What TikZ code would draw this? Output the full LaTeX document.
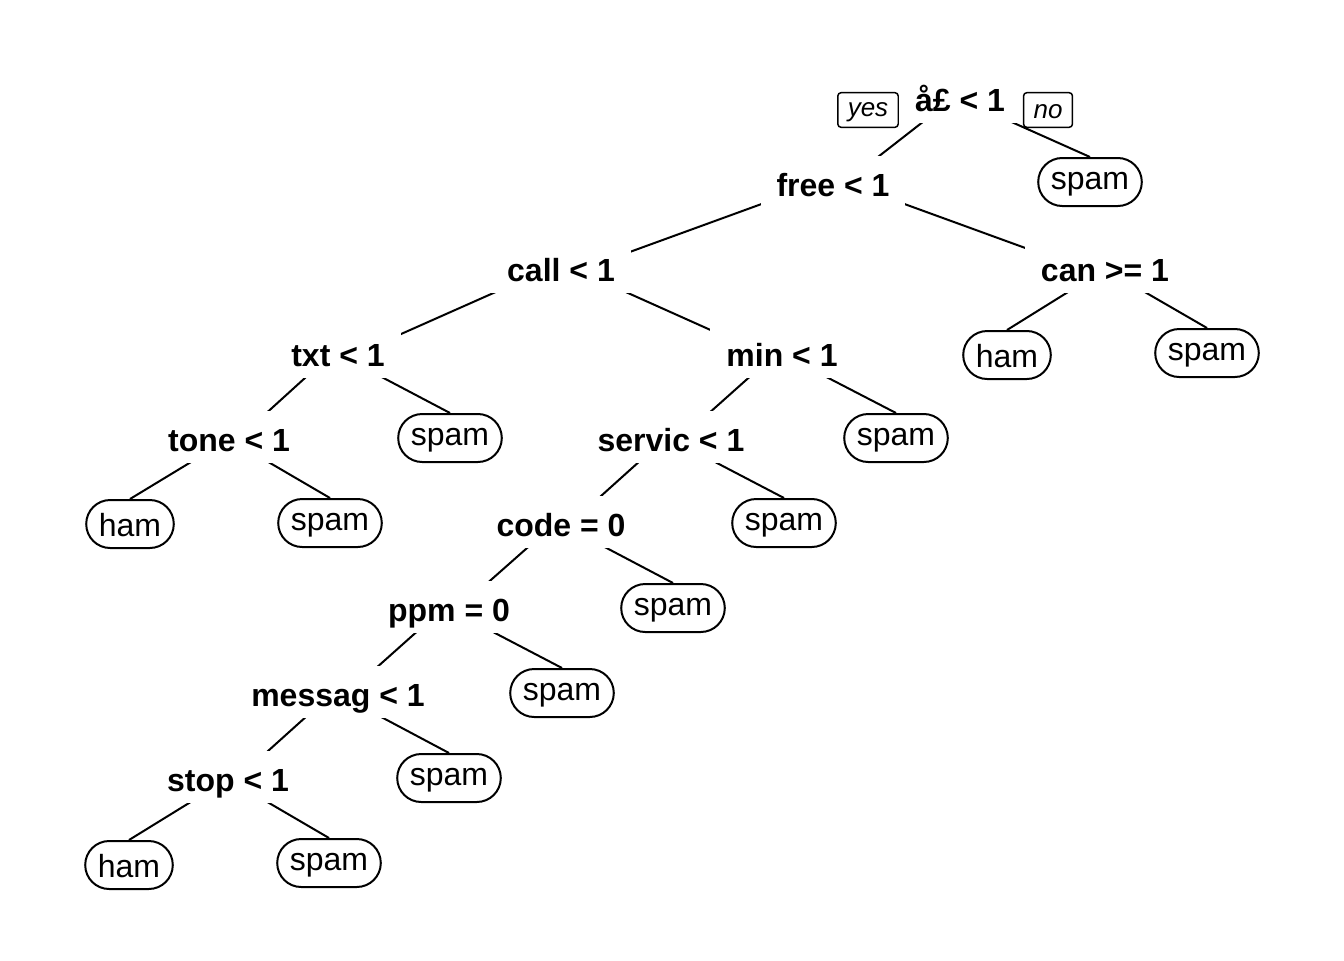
\documentclass[tikz,border=0pt]{standalone}
\usepackage{fontspec}
\setmainfont{Liberation Sans}
\usetikzlibrary{backgrounds}
% branch from a split to a split, and from a split to a leaf
\newcommand\splitbranch[2]{\draw[branch] ([yshift=13.5pt]#1.base) -- ([yshift=3pt]#2.base);}
\newcommand\leafbranch[2]{\draw[branch] ([yshift=9pt]#1.base) -- (#2.north);}
% lower a label inside its box without changing the box size
\newcommand\low[2]{\raisebox{-#1}[\height][\depth]{#2}}
\begin{document}
\begin{tikzpicture}[x=0.75pt,y=-0.75pt,
  split/.style={font=\bfseries\fontsize{24}{24}\selectfont, anchor=base, fill=white,
    text height=21pt, text depth=0pt, inner ysep=9pt, inner xsep=12pt},
  leaf/.style={draw, line width=1.5pt, rounded corners=18pt, fill=white,
    font=\fontsize{24}{24}\selectfont, minimum height=36pt, inner xsep=9.5pt, inner ysep=0pt},
  tag/.style={draw, line width=1.1pt, rounded corners=2.5pt,
    font=\itshape\fontsize{19.5}{19.5}\selectfont, minimum height=26pt, inner xsep=7.5pt, inner ysep=0pt},
  branch/.style={line width=1.5pt}]
\useasboundingbox (0,0) rectangle (1344,960);

% split labels (placed by baseline)
\node[split] (root)   at (960,111) {å£ < 1};
\node[split] (free)   at (833,196) {free < 1};
\node[split] (call)   at (561,281) {call < 1};
\node[split] (can)    at (1105,281) {can >= 1};
\node[split] (txt)    at (338,366) {txt < 1};
\node[split] (min)    at (782,366) {min < 1};
\node[split] (tone)   at (229,451) {tone < 1};
\node[split] (servic) at (671,451) {servic < 1};
\node[split] (code)   at (561,536) {code = 0};
\node[split] (ppm)    at (449,621) {ppm = 0};
\node[split] (messag) at (338,706) {messag < 1};
\node[split] (stop)   at (228,791) {stop < 1};

% yes / no tags at the root
\node[tag] (yes) at (868,110) {\low{1.5pt}{yes}};
\node[tag] (no)  at (1048,110) {\low{1.5pt}{no}};

% leaves
\node[leaf] (l1)  at (1090,182) {\low{2pt}{spam}};
\node[leaf] (l2)  at (1007,355) {\low{1pt}{ham}};
\node[leaf] (l3)  at (1207,353) {\low{2pt}{spam}};
\node[leaf] (l4)  at (450,438) {\low{2pt}{spam}};
\node[leaf] (l5)  at (896,438) {\low{2pt}{spam}};
\node[leaf] (l6)  at (130,524) {\low{1pt}{ham}};
\node[leaf] (l7)  at (330,523) {\low{2pt}{spam}};
\node[leaf] (l8)  at (784,523) {\low{2pt}{spam}};
\node[leaf] (l9)  at (673,608) {\low{2pt}{spam}};
\node[leaf] (l10) at (562,693) {\low{2pt}{spam}};
\node[leaf] (l11) at (449,778) {\low{2pt}{spam}};
\node[leaf] (l12) at (129,865) {\low{1pt}{ham}};
\node[leaf] (l13) at (329,863) {\low{2pt}{spam}};

\begin{pgfonlayer}{background}
  \splitbranch{root}{free}
  \leafbranch{root}{l1}
  \splitbranch{free}{call}
  \splitbranch{free}{can}
  \leafbranch{can}{l2}
  \leafbranch{can}{l3}
  \splitbranch{call}{txt}
  \splitbranch{call}{min}
  \splitbranch{txt}{tone}
  \leafbranch{txt}{l4}
  \splitbranch{min}{servic}
  \leafbranch{min}{l5}
  \leafbranch{tone}{l6}
  \leafbranch{tone}{l7}
  \splitbranch{servic}{code}
  \leafbranch{servic}{l8}
  \splitbranch{code}{ppm}
  \leafbranch{code}{l9}
  \splitbranch{ppm}{messag}
  \leafbranch{ppm}{l10}
  \splitbranch{messag}{stop}
  \leafbranch{messag}{l11}
  \leafbranch{stop}{l12}
  \leafbranch{stop}{l13}
\end{pgfonlayer}
\end{tikzpicture}
\end{document}
